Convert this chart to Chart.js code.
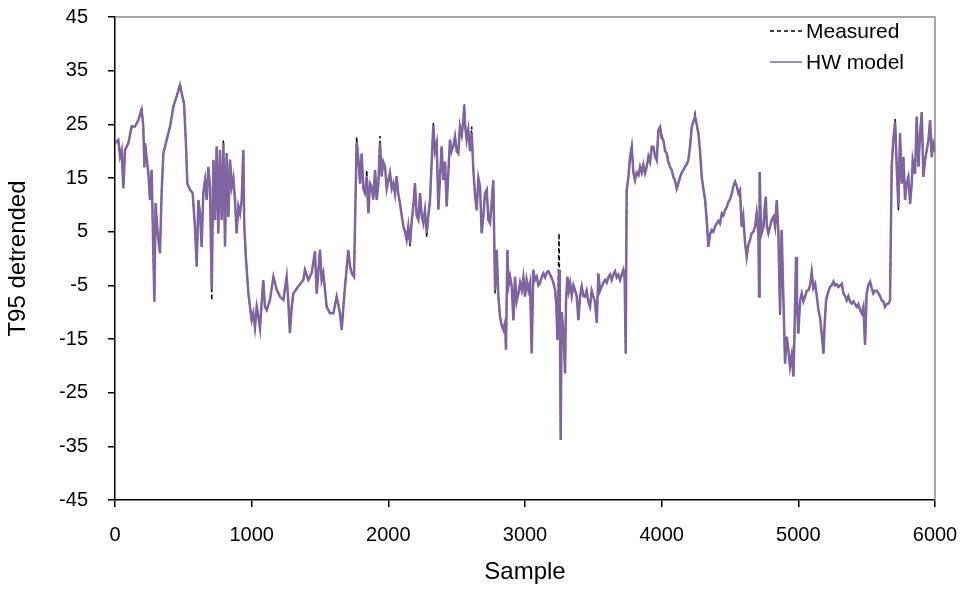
<!DOCTYPE html>
<html>
<head>
<meta charset="utf-8">
<script src="https://cdn.jsdelivr.net/npm/chart.js@4.4.1/dist/chart.umd.min.js"></script>
<style>
html, body { margin: 0; padding: 0; background: #fff; }
#wrap { width: 966px; height: 589px; }
</style>
</head>
<body>
<div id="wrap"><canvas id="chart" width="966" height="589"></canvas></div>
<script>
// sample index of each read-off point
const samples = [
  0, 24, 37, 49, 61, 73, 98, 122, 146, 171,
  195, 207, 215, 220, 244, 256, 268, 288, 297, 312,
  329, 341, 354, 378, 403, 427, 451, 476, 488, 505,
  519, 529, 549, 568, 585, 598, 610, 622, 634, 646,
  659, 671, 683, 695, 708, 720, 732, 744, 756, 768,
  781, 793, 805, 817, 830, 842, 854, 866, 878, 890,
  903, 915, 927, 939, 946, 959, 976, 988, 1000, 1012,
  1024, 1037, 1049, 1061, 1073, 1085, 1097, 1110, 1134, 1159,
  1183, 1207, 1232, 1256, 1268, 1280, 1293, 1305, 1341, 1378,
  1390, 1415, 1439, 1463, 1476, 1500, 1512, 1524, 1549, 1573,
  1598, 1622, 1646, 1659, 1671, 1683, 1707, 1720, 1732, 1749,
  1768, 1781, 1793, 1805, 1817, 1829, 1842, 1854, 1866, 1878,
  1890, 1903, 1915, 1927, 1939, 1951, 1963, 1976, 1988, 2000,
  2012, 2025, 2037, 2049, 2061, 2073, 2085, 2098, 2110, 2122,
  2134, 2146, 2159, 2171, 2183, 2195, 2207, 2220, 2232, 2244,
  2256, 2268, 2281, 2293, 2305, 2317, 2329, 2341, 2354, 2366,
  2378, 2390, 2403, 2415, 2427, 2439, 2451, 2463, 2476, 2488,
  2500, 2512, 2524, 2537, 2549, 2555, 2561, 2573, 2585, 2598,
  2610, 2622, 2634, 2646, 2659, 2671, 2683, 2695, 2707, 2720,
  2732, 2744, 2756, 2768, 2781, 2793, 2805, 2817, 2830, 2842,
  2854, 2861, 2871, 2880, 2891, 2903, 2915, 2927, 2939, 2952,
  2964, 2976, 2988, 3000, 3012, 3025, 3037, 3049, 3061, 3073,
  3086, 3098, 3110, 3122, 3135, 3147, 3159, 3171, 3184, 3196,
  3208, 3220, 3230, 3237, 3249, 3255, 3261, 3268, 3276, 3285,
  3293, 3300, 3310, 3320, 3330, 3342, 3354, 3366, 3378, 3391,
  3403, 3415, 3427, 3439, 3451, 3463, 3476, 3488, 3500, 3512,
  3525, 3537, 3549, 3561, 3574, 3586, 3598, 3610, 3622, 3634,
  3646, 3659, 3671, 3683, 3696, 3708, 3720, 3729, 3737, 3744,
  3756, 3769, 3781, 3793, 3805, 3817, 3830, 3842, 3854, 3866,
  3878, 3890, 3903, 3915, 3927, 3939, 3952, 3964, 3976, 3988,
  4000, 4013, 4025, 4037, 4049, 4061, 4073, 4086, 4098, 4110,
  4122, 4135, 4147, 4159, 4171, 4183, 4195, 4208, 4220, 4232,
  4244, 4256, 4269, 4281, 4293, 4305, 4318, 4330, 4342, 4354,
  4366, 4378, 4391, 4403, 4415, 4427, 4440, 4452, 4464, 4476,
  4488, 4500, 4513, 4525, 4537, 4549, 4562, 4573, 4586, 4597,
  4610, 4622, 4634, 4646, 4659, 4671, 4683, 4695, 4708, 4713,
  4717, 4724, 4732, 4745, 4756, 4762, 4769, 4781, 4793, 4805,
  4818, 4830, 4842, 4854, 4866, 4878, 4891, 4903, 4915, 4927,
  4939, 4952, 4964, 4971, 4983, 4990, 5000, 5013, 5025, 5037,
  5049, 5062, 5074, 5086, 5098, 5110, 5123, 5135, 5147, 5159,
  5171, 5184, 5193, 5203, 5215, 5232, 5245, 5257, 5269, 5281,
  5293, 5306, 5318, 5330, 5342, 5354, 5366, 5378, 5391, 5403,
  5415, 5427, 5439, 5451, 5464, 5476, 5488, 5500, 5512, 5525,
  5537, 5549, 5561, 5574, 5586, 5598, 5610, 5622, 5634, 5647,
  5659, 5671, 5683, 5695, 5708, 5720, 5732, 5744, 5757, 5769,
  5781, 5793, 5805, 5818, 5830, 5837, 5854, 5866, 5879, 5891,
  5903, 5915, 5927, 5940, 5952, 5964, 5976, 5988, 6000
];

const hwModel = [
  21.5, 22.1, 19, 20.2, 13.1, 20.2, 21.5, 24.6, 24.6, 25.8,
  27.7, 24.6, 17, 21.5, 15.9, 10.9, 16.5, -8, 10.3, 4.7,
  1, 12.2, 19.6, 22.1, 24.6, 28.3, 30.2, 32.3, 30.8, 28.9,
  21.5, 14, 12.8, 12.2, 6, -1.5, 10.9, 8.4, 2.2, 12.2,
  14.6, 10.9, 17.1, 13.4, -5.8, 18.4, 7.2, 20.9, 4.7, 20.2,
  7.2, 21.5, 2.2, 19.6, 7.8, 18.4, 13.4, 15, 10.9, 4.7,
  9.7, 8.4, 10.9, 20.2, 6, -0.3, -6.5, -9, -11.5, -10.2,
  -12.8, -9, -10.8, -13, -8.3, -4, -9, -9.6, -7.7, -3.4,
  -5.8, -7.1, -7.7, -3.4, -8, -13.9, -9, -6.5, -5.2, -4,
  -2.1, -4, -2.7, 1.3, -6.5, 1.6, -4, -2.7, -9, -10.2,
  -10.2, -7.1, -10.2, -13.3, -9, -5.2, 1.6, -1.5, -2.7, -3.4,
  21.6, 18.4, 14, 19.6, 13, 12.2, 15.3, 8.4, 14, 13.4,
  11, 16.5, 10.9, 14, 21.6, 15.3, 18, 17.1, 13, 14.6,
  16, 13, 14, 12, 15.3, 12, 10.3, 8, 6, 5,
  3.5, 6, 2.8, 7, 9.7, 14, 8, 7.2, 12.2, 8,
  6.6, 9, 4.7, 8, 10.9, 18, 24.9, 20, 21.5, 9.1,
  15, 20.9, 14.6, 18, 9.7, 16, 22.1, 20, 21, 22.7,
  20, 19.6, 24.6, 23, 25.8, 28.5, 25, 22.1, 24, 20,
  23.5, 16.5, 12, 9, 15, 13.4, 4.7, 7.8, 12.1, 12.8,
  7.2, 6.6, 10.3, 14.6, -5.9, 1.6, -7, -10.8, -12.5, -13.3,
  -12, -17, 1.6, -5, -3.4, -5.2, -11.5, -3.4, -8, -6.5,
  -4.5, -5.9, -3.5, -7.1, -4, -5.9, -4.5, -17.7, -2.1, -4,
  -3.4, -5, -4.6, -3.5, -2.8, -3.5, -2.6, -2.4, -3, -3.7,
  -4.5, -5.9, -9, -15.2, -2.1, -10, -33.8, -10, -12, -16,
  -21.4, -8, -3.4, -6, -4.6, -7, -5, -5.9, -7, -11.5,
  -7, -5.2, -7, -7.1, -6, -8, -9, -6, -7.1, -8,
  -12, -2.8, -6, -5.2, -4.5, -4, -4.5, -3.5, -3, -4,
  -3, -2.4, -3.5, -3, -4, -3, -2.1, -3.5, -17.7, 12.8,
  15, 19, 20.8, 16, 14.6, 16, 15.5, 17.1, 16, 17.5,
  15.9, 17, 19, 18, 20.8, 20.8, 19, 18.3, 23.9, 24.5,
  22.5, 22, 20, 19.6, 18, 17.1, 16.5, 15.2, 14.5, 13,
  14, 15.2, 16, 16.5, 17.1, 17.5, 18.3, 21, 24.5, 25.5,
  26.5, 25, 23.3, 20, 15.2, 13, 10.9, 7, 2.2, 4.5,
  5.3, 5, 6, 6.5, 7, 6.5, 8.4, 8, 9, 9.6,
  10.5, 11, 12.1, 13.5, 14.3, 13.5, 12.1, 12.7, 5.9, 7.8,
  3, 0.3, 2.5, 3.4, 4.7, 5, 5.9, 8.4, 4.7, -7.1,
  16.1, 8, 4.7, 5.9, 10.2, 11.5, 6, 4.7, 6, 7.2,
  7.8, 6, 10.9, 4.7, -10.2, 5.3, -7.8, -19.6, -14.6, -17,
  -20.2, -18, -22, -15.2, 0.3, -8, -14, -7.8, -6.5, -8,
  -7.1, -6, -5.9, -5, -2.5, -5.5, -4.7, -7, -9.6, -11,
  -14, -17.7, -12, -7.8, -6.5, -5.3, -5, -4.3, -5, -4.8,
  -5.3, -5, -4.7, -6.5, -7, -7.8, -7, -8, -8.4, -8,
  -8.5, -9, -8.5, -9.5, -10.2, -9, -16.1, -6.5, -5, -4.3,
  -5.5, -6.5, -6, -6, -6.5, -7, -7.8, -8, -9, -8.5,
  -8.4, -7.8, 17.1, 22, 25.5, 17.1, 9.6, 23.3, 14, 18.9,
  10.9, 14, 15.2, 10.2, 14, 18.3, 15.8, 26.4, 17.1, 23.3,
  27.3, 15.2, 18.3, 20.2, 22, 25.8, 18.9, 21.4, 20
];

const measured = [
  21.5, 22.1, 19, 20.2, 13.1, 20.2, 21.5, 24.6, 24.6, 25.8,
  28.2, 24.6, 17, 21.5, 15.9, 10.9, 16.5, -8, 10.3, 4.7,
  1, 12.2, 19.6, 22.1, 24.6, 28.3, 30.2, 32.6, 30.8, 28.9,
  21.5, 14, 12.8, 12.2, 6, -1.5, 10.9, 8.4, 2.2, 12.2,
  14.6, 10.9, 17.1, 13.4, -7.8, 18.4, 7.2, 20.9, 4.7, 20.2,
  7.2, 22, 2.2, 19.6, 7.8, 18.4, 13.4, 15, 10.9, 4.7,
  9.7, 8.4, 10.9, 20.2, 6, -0.3, -6.5, -9, -11.5, -10.2,
  -12.8, -9, -10.8, -13, -8.3, -4, -9, -9.6, -7.7, -3.4,
  -5.8, -7.1, -7.7, -3.4, -8, -13.9, -9, -6.5, -5.2, -4,
  -2.1, -4, -2.7, 1.3, -6.5, 1.6, -4, -2.7, -9, -10.2,
  -10.2, -7.1, -10.2, -13.3, -9, -5.2, 1.6, -1.5, -2.7, -3.4,
  22.7, 18.4, 14, 19.6, 13, 12.2, 16.5, 8.4, 14, 13.4,
  11, 16.5, 10.9, 14, 22.8, 15.3, 18, 17.1, 13, 14.6,
  16, 13, 14, 12, 15.3, 12, 10.3, 8, 6, 5,
  3.5, 6, 2.3, 7, 9.7, 14, 8, 7.2, 12.2, 8,
  6.6, 9, 4, 8, 10.9, 18, 25.3, 20, 21.5, 9.1,
  15, 20.9, 14.6, 18, 9.7, 16, 22.1, 20, 21, 22.7,
  20, 19.6, 24.6, 23, 25.8, 28.8, 25, 22.1, 24, 20,
  24.6, 16.5, 12, 9, 15, 13.4, 4.7, 7.8, 12.1, 12.8,
  7.2, 6.6, 10.3, 14.6, -6.5, 1.6, -7, -10.8, -12.5, -13.3,
  -12, -17, 1.6, -5, -3.4, -5.2, -11.5, -3.4, -8, -6.5,
  -4.5, -5.9, -3.5, -7.1, -4, -5.9, -4.5, -17.7, -2.1, -4,
  -3.4, -5, -4.6, -3.5, -2.8, -3.5, -2.6, -2.4, -3, -3.7,
  -4.5, -5.9, -9, -15.2, 4.7, -10, -33.8, -10, -12, -16,
  -21.4, -8, -3.4, -6, -4.6, -7, -5, -5.9, -7, -11.5,
  -7, -5.2, -7, -7.1, -6, -8, -9, -6, -7.1, -8,
  -12, -2.8, -6, -5.2, -4.5, -4, -4.5, -3.5, -3, -4,
  -3, -2.4, -3.5, -3, -4, -3, -2.1, -3.5, -17.7, 12.8,
  15, 19, 20.8, 16, 14.6, 16, 15.5, 17.1, 16, 17.5,
  15.9, 17, 19, 18, 20.8, 20.8, 19, 18.3, 23.9, 24.5,
  23, 22, 20, 19.6, 18, 17.1, 16.5, 15.2, 14.5, 13,
  14, 15.2, 16, 16.5, 17.1, 17.5, 18.3, 21, 24.5, 25.5,
  27, 25, 23.3, 20, 15.2, 13, 10.9, 7, 2.2, 4.5,
  5.3, 5, 6, 6.5, 7, 6.5, 8.4, 8, 9, 9.6,
  10.5, 11, 12.1, 13.5, 14.3, 13.5, 12.1, 12.7, 5.9, 7.8,
  3, 0.3, 2.5, 3.4, 4.7, 5, 5.9, 8.4, 4.7, -7.1,
  16.1, 8, 4.7, 5.9, 10.2, 11.5, 6, 4.7, 6, 7.2,
  7.8, 6, 10.9, 4.7, -10.5, 5.3, -7.8, -19.6, -14.6, -17,
  -20.2, -18, -22, -15.2, 0.3, -8, -14, -7.8, -6.5, -8,
  -7.1, -6, -5.9, -5, -2.5, -5.5, -4.7, -7, -9.6, -11,
  -14, -17.7, -12, -7.8, -6.5, -5.3, -5, -4.3, -5, -4.8,
  -5.3, -5, -4.7, -6.5, -7, -7.8, -7, -8, -8.4, -8,
  -8.5, -9, -8.5, -9.5, -10.2, -9, -16.1, -6.5, -5, -4.3,
  -5.5, -6.5, -6, -6, -6.5, -7, -7.8, -8, -9, -8.5,
  -8.4, -7.8, 17.1, 22, 26, 17.1, 9, 23.3, 14, 18.9,
  10.9, 14, 15.2, 10.2, 14, 18.3, 15.8, 26.4, 17.1, 23.3,
  27.3, 15.2, 18.3, 20.2, 22, 25.8, 18.9, 21.4, 20
];

const xTicks = [0, 1000, 2000, 3000, 4000, 5000, 6000];
const yTicks = [-45, -35, -25, -15, -5, 5, 15, 25, 35, 45];

const FONT = "'Liberation Sans', Arial, sans-serif";

function toPoints(vals) {
  return samples.map((s, i) => ({ x: s, y: vals[i] }));
}

// top/right frame of the plot area, grey as in the picture
const plotFrame = {
  id: 'plotFrame',
  beforeDatasetsDraw(chart) {
    const { ctx, chartArea: a } = chart;
    ctx.save();
    ctx.strokeStyle = '#8c8c8c';
    ctx.lineWidth = 1.5;
    ctx.beginPath();
    ctx.moveTo(a.left, a.top);
    ctx.lineTo(a.right, a.top);
    ctx.lineTo(a.right, a.bottom);
    ctx.stroke();
    ctx.restore();
  }
};

// legend sits inside the plot, top right
const insideLegend = {
  id: 'insideLegend',
  afterDatasetsDraw(chart) {
    const { ctx, chartArea: a } = chart;
    ctx.save();
    ctx.font = '21px ' + FONT;
    ctx.textBaseline = 'middle';
    ctx.fillStyle = '#000';
    chart.data.datasets.forEach((ds, i) => {
      const y = a.top + 14 + i * 31;
      const x0 = a.right - 165, x1 = a.right - 133;
      ctx.strokeStyle = ds.borderColor;
      ctx.lineWidth = ds.legendWidth;
      ctx.setLineDash(ds.borderDash || []);
      ctx.beginPath();
      ctx.moveTo(x0, y);
      ctx.lineTo(x1, y);
      ctx.stroke();
      ctx.setLineDash([]);
      ctx.fillText(ds.label, x1 + 4, y + 1);
    });
    ctx.restore();
  }
};

new Chart(document.getElementById('chart'), {
  type: 'line',
  data: {
    datasets: [
      {
        label: 'Measured',
        data: toPoints(measured),
        borderColor: '#000',
        borderWidth: 1.5,
        borderDash: [4, 3],
        legendWidth: 1.5,
        order: 1
      },
      {
        label: 'HW model',
        data: toPoints(hwModel),
        borderColor: '#8064A2',
        borderWidth: 2.5,
        legendWidth: 1.5,
        order: 0
      }
    ]
  },
  options: {
    responsive: false,
    animation: false,
    layout: { padding: { top: 17, right: 31, left: 0, bottom: 0 } },
    elements: { point: { radius: 0 }, line: { tension: 0 } },
    plugins: { legend: { display: false }, tooltip: { enabled: false } },
    scales: {
      x: {
        type: 'linear',
        min: 0,
        max: 6000,
        afterBuildTicks: s => { s.ticks = xTicks.map(v => ({ value: v })); },
        afterFit: s => { s.height = 89; s.paddingLeft = 0; s.paddingRight = 0; },
        ticks: { color: '#000', font: { family: FONT, size: 20 }, padding: 16, maxRotation: 0,
                 callback: v => String(v) },
        grid: { drawOnChartArea: false, tickLength: 7, color: '#000', lineWidth: 1.5 },
        border: { color: '#000', width: 1.5 },
        title: { display: true, text: 'Sample', color: '#000', font: { family: FONT, size: 24 }, padding: { top: 4, bottom: 2 } }
      },
      y: {
        type: 'linear',
        min: -45,
        max: 45,
        afterBuildTicks: s => { s.ticks = yTicks.map(v => ({ value: v })); },
        afterFit: s => { s.width = 115; s.paddingTop = 0; s.paddingBottom = 0; },
        ticks: { color: '#000', font: { family: FONT, size: 20 }, padding: 20,
                 callback: v => String(v) },
        grid: { drawOnChartArea: false, tickLength: 7, color: '#000', lineWidth: 1.5 },
        border: { color: '#000', width: 1.5 },
        title: { display: true, text: 'T95 detrended', color: '#000', font: { family: FONT, size: 24 }, padding: 4 }
      }
    }
  },
  plugins: [plotFrame, insideLegend]
});
</script>
</body>
</html>
